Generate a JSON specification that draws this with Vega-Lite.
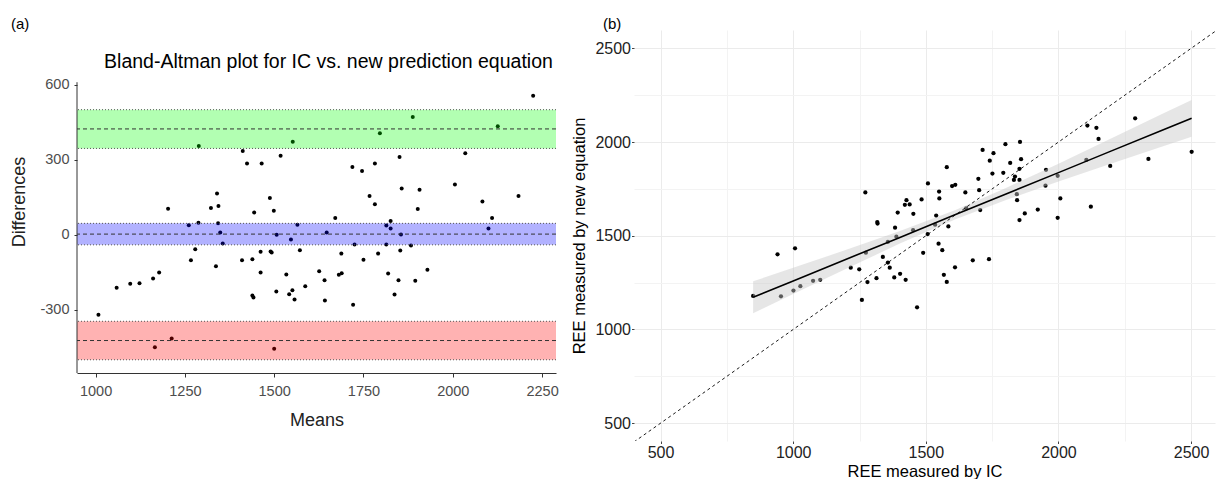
{
  "$schema": "https://vega.github.io/schema/vega-lite/v6.json",
  "background": "white",
  "padding": {"left": 10, "top": 17, "right": 2, "bottom": 2},
  "spacing": 12,
  "config": {
    "view": {"stroke": null},
    "font": "Liberation Sans",
    "axis": {"titleFontWeight": "normal", "labelExpr": "'' + datum.value"},
    "title": {"fontWeight": "normal", "color": "#000", "fontSize": 15, "font": "Liberation Sans"}
  },
  "datasets": {
    "ba": [
      {"m":2225,"d":556},{"m":1888,"d":471},{"m":2126,"d":434},{"m":1796,"d":406},{"m":1552,"d":372},{"m":1289,"d":355},{"m":1412,"d":335},{"m":2035,"d":326},{"m":1518,"d":316},{"m":1851,"d":311},{"m":1424,"d":285},{"m":1465,"d":285},{"m":1782,"d":285},{"m":1719,"d":271},{"m":1746,"d":255},{"m":2006,"d":201},{"m":1857,"d":185},{"m":1907,"d":180},{"m":1340,"d":165},{"m":2184,"d":155},{"m":1767,"d":155},{"m":1488,"d":147},{"m":2083,"d":133},{"m":1782,"d":121},{"m":1344,"d":114},{"m":1323,"d":106},{"m":1203,"d":103},{"m":1902,"d":102},{"m":1499,"d":95},{"m":1444,"d":88},{"m":1671,"d":66},{"m":2110,"d":66},{"m":1826,"d":54},
      {"m":1261,"d":37},{"m":1288,"d":47},{"m":1343,"d":45},{"m":1565,"d":39},{"m":1814,"d":36},{"m":1826,"d":24},{"m":2100,"d":24},{"m":1349,"d":8},{"m":1647,"d":8},{"m":1507,"d":-1},{"m":1855,"d":0},{"m":1547,"d":-20},{"m":1356,"d":-36},{"m":1725,"d":-40},{"m":1814,"d":-40},{"m":1883,"d":-44},{"m":1279,"d":-59},{"m":1572,"d":-63},{"m":1853,"d":-64},{"m":1462,"d":-69},{"m":1490,"d":-68},{"m":1493,"d":-72},{"m":1688,"d":-76},{"m":1791,"d":-76},{"m":1267,"d":-103},{"m":1410,"d":-103},{"m":1439,"d":-99},{"m":1750,"d":-101},{"m":1337,"d":-127},{"m":1929,"d":-141},{"m":1626,"d":-147},{"m":1462,"d":-152},{"m":1178,"d":-152},{"m":1689,"d":-155},{"m":1681,"d":-161},{"m":1819,"d":-156},{"m":1534,"d":-160},{"m":1161,"d":-176},{"m":1641,"d":-183},{"m":1848,"d":-183},{"m":1895,"d":-185},{"m":1123,"d":-195},{"m":1097,"d":-197},{"m":1587,"d":-207},{"m":1059,"d":-213},{"m":1551,"d":-223},{"m":1506,"d":-228},{"m":1439,"d":-244},{"m":1442,"d":-252},{"m":1542,"d":-239},{"m":1837,"d":-240},{"m":1557,"d":-260},{"m":1642,"d":-264},{"m":1721,"d":-281},{"m":1008,"d":-321},{"m":1213,"d":-416},{"m":1166,"d":-451},{"m":1500,"d":-457}
    ],
    "bands": [
      {"band":"upper","lo":345,"mid":423,"hi":500},
      {"band":"mean","lo":-41,"mid":2,"hi":45},
      {"band":"lower","lo":-501,"mid":-424,"hi":-347}
    ],
    "pts": [
      {"ic":2289,"ne":2127},{"ic":2109,"ne":2088},{"ic":2143,"ne":2076},{"ic":2151,"ne":2017},{"ic":2502,"ne":1948},{"ic":2339,"ne":1910},{"ic":2105,"ne":1905},{"ic":2195,"ne":1873},{"ic":2122,"ne":1655},{"ic":2007,"ne":1699},{"ic":1997,"ne":1596},{"ic":1997,"ne":1820},{"ic":1953,"ne":1852},{"ic":1951,"ne":1767},{"ic":1922,"ne":1640},{"ic":1873,"ne":1619},{"ic":1853,"ne":1584},{"ic":1855,"ne":2001},{"ic":1859,"ne":1909},{"ic":1853,"ne":1857},{"ic":1853,"ne":1798},{"ic":1836,"ne":1816},{"ic":1832,"ne":1798},{"ic":1843,"ne":1722},{"ic":1844,"ne":1690},{"ic":1818,"ne":1889},{"ic":1800,"ne":1989},{"ic":1792,"ne":1836},{"ic":1755,"ne":1941},{"ic":1741,"ne":1901},{"ic":1714,"ne":1958},{"ic":1751,"ne":1832},{"ic":1698,"ne":1804},{"ic":1701,"ne":1743},{"ic":1705,"ne":1637},{"ic":1649,"ne":1731},{"ic":1652,"ne":1646},{"ic":1611,"ne":1772},{"ic":1599,"ne":1765},{"ic":1579,"ne":1866},{"ic":1550,"ne":1736},{"ic":1551,"ne":1699},{"ic":1539,"ne":1608},{"ic":1535,"ne":1559},{"ic":1585,"ne":1550},{"ic":1508,"ne":1779},{"ic":1484,"ne":1694},{"ic":1453,"ne":1617},{"ic":1439,"ne":1667},{"ic":1427,"ne":1690},{"ic":1421,"ne":1665},{"ic":1452,"ne":1530},{"ic":1394,"ne":1624},{"ic":1384,"ne":1543},{"ic":1389,"ne":1495},{"ic":1317,"ne":1573},{"ic":1318,"ne":1565},{"ic":1272,"ne":1731},{"ic":1507,"ne":1509},{"ic":1548,"ne":1458},{"ic":1007,"ne":1433},{"ic":1357,"ne":1468},
      {"ic":941,"ne":1401},{"ic":849,"ne":1179},{"ic":954,"ne":1177},{"ic":1001,"ne":1208},{"ic":1027,"ne":1231},{"ic":1075,"ne":1260},{"ic":1102,"ne":1265},{"ic":1217,"ne":1330},{"ic":1249,"ne":1321},{"ic":1259,"ne":1158},{"ic":1274,"ne":1410},{"ic":1280,"ne":1253},{"ic":1314,"ne":1274},{"ic":1338,"ne":1387},{"ic":1357,"ne":1357},{"ic":1364,"ne":1330},{"ic":1381,"ne":1278},{"ic":1403,"ne":1297},{"ic":1424,"ne":1265},{"ic":1467,"ne":1118},{"ic":1490,"ne":1409},{"ic":1562,"ne":1423},{"ic":1568,"ne":1292},{"ic":1579,"ne":1254},{"ic":1610,"ne":1332},{"ic":1677,"ne":1369},{"ic":1738,"ne":1375}
    ],
    "fit": [
      {"x":849,"fit":1172,"lo":1087,"hi":1257},{"x":1000,"fit":1259,"lo":1189,"hi":1329},{"x":1200,"fit":1375,"lo":1324,"hi":1425},{"x":1400,"fit":1490,"lo":1457,"hi":1524},{"x":1612,"fit":1613,"lo":1588,"hi":1638},{"x":1800,"fit":1722,"lo":1690,"hi":1754},{"x":2000,"fit":1837,"lo":1789,"hi":1885},{"x":2200,"fit":1953,"lo":1886,"hi":2020},{"x":2400,"fit":2068,"lo":1981,"hi":2156},{"x":2502,"fit":2127,"lo":2029,"hi":2225}
    ],
    "identity": [{"a":400},{"a":2600}],
    "one": [{"t":"Bland-Altman plot for IC vs. new prediction equation"}]
  },
  "hconcat": [
    {
      "width": 479,
      "height": 343,
      "title": {"text": "(a)", "anchor": "start", "frame": "group", "dx": -66, "offset": -2},
      "layer": [
        {
          "data": {"name": "ba"},
          "mark": {"type": "circle", "size": 16, "color": "#000", "opacity": 1},
          "encoding": {
            "x": {"field": "m", "type": "quantitative",
              "scale": {"domain": [948, 2289], "nice": false, "zero": false},
              "axis": {"values": [1000,1250,1500,1750,2000,2250], "title": "Means", "titleFontSize": 18, "titleColor": "#222", "labelFontSize": 14.5, "labelColor": "#4d4d4d", "grid": false, "domain": true, "domainColor": "#333", "tickColor": "#333", "tickSize": 4, "labelPadding": 7, "titlePadding": 14}},
            "y": {"field": "d", "type": "quantitative",
              "scale": {"domain": [-554, 819], "nice": false, "zero": false},
              "axis": {"values": [-300,0,300,600], "title": "Differences", "titleFontSize": 18, "titleColor": "#222", "labelFontSize": 14.5, "labelColor": "#4d4d4d", "grid": false, "domain": false, "tickColor": "#333", "tickSize": 3, "labelPadding": 5, "titlePadding": 11}}
          }
        },
        {
          "data": {"name": "bands"},
          "mark": {"type": "rect", "opacity": 0.3},
          "encoding": {
            "x": {"datum": 948},
            "x2": {"datum": 2289},
            "y": {"field": "lo", "type": "quantitative"},
            "y2": {"field": "hi"},
            "color": {"field": "band", "type": "nominal", "legend": null,
              "scale": {"domain": ["upper", "mean", "lower"], "range": ["#00ff00", "#0000ff", "#ff0000"]}}
          }
        },
        {
          "data": {"name": "bands"},
          "mark": {"type": "rule", "color": "#555", "strokeDash": [1, 2], "strokeWidth": 1},
          "encoding": {"y": {"field": "lo", "type": "quantitative"}}
        },
        {
          "data": {"name": "bands"},
          "mark": {"type": "rule", "color": "#555", "strokeDash": [1, 2], "strokeWidth": 1},
          "encoding": {"y": {"field": "hi", "type": "quantitative"}}
        },
        {
          "data": {"name": "bands"},
          "mark": {"type": "rule", "color": "#333", "strokeDash": [4, 3], "strokeWidth": 1},
          "encoding": {"y": {"field": "mid", "type": "quantitative"}}
        },
        {
          "data": {"name": "one"},
          "mark": {"type": "rule", "color": "#333", "strokeWidth": 1},
          "encoding": {"x": {"datum": 948}, "y": {"datum": -554}, "y2": {"datum": 610}}
        },
        {
          "data": {"name": "one"},
          "mark": {"type": "text", "fontSize": 19.5, "font": "Liberation Sans", "color": "#000", "align": "center", "baseline": "middle"},
          "encoding": {"text": {"field": "t"}, "x": {"datum": 1652}, "y": {"datum": 692}}
        }
      ]
    },
    {
      "width": 581,
      "height": 411,
      "title": {"text": "(b)", "anchor": "start", "frame": "group", "dx": -31, "offset": -2},
      "resolve": {"axis": {"x": "independent", "y": "independent"}},
      "layer": [
        {
          "data": {"name": "pts"},
          "mark": {"type": "circle", "size": 18, "color": "#000", "opacity": 1},
          "encoding": {
            "x": {"field": "ic", "type": "quantitative",
              "scale": {"domain": [400, 2590], "nice": false, "zero": false},
              "axis": {"values": [500,1000,1500,2000,2500], "title": "REE measured by IC", "titleFontSize": 16.5, "titleColor": "#000", "labelFontSize": 16, "labelColor": "#222", "grid": true, "gridColor": "#ebebeb", "domain": false, "ticks": true, "tickSize": 2.5, "tickColor": "#444", "labelPadding": 1, "titlePadding": 3}},
            "y": {"field": "ne", "type": "quantitative",
              "scale": {"domain": [405, 2598], "nice": false, "zero": false},
              "axis": {"values": [500,1000,1500,2000,2500], "title": "REE measured by new equation", "titleFontSize": 16.5, "titleColor": "#000", "labelFontSize": 16, "labelColor": "#222", "grid": true, "gridColor": "#ebebeb", "domain": false, "ticks": true, "tickSize": 2.5, "tickColor": "#444", "labelPadding": 1, "titlePadding": 7}}
          }
        },
        {
          "data": {"name": "fit"},
          "mark": {"type": "area", "color": "#c8c8c8", "opacity": 0.45},
          "encoding": {
            "x": {"field": "x", "type": "quantitative", "axis": null},
            "y": {"field": "lo", "type": "quantitative", "axis": null},
            "y2": {"field": "hi"}
          }
        },
        {
          "data": {"name": "fit"},
          "mark": {"type": "line", "color": "#000", "strokeWidth": 1.6},
          "encoding": {
            "x": {"field": "x", "type": "quantitative", "axis": null},
            "y": {"field": "fit", "type": "quantitative", "axis": null}
          }
        },
        {
          "data": {"name": "identity"},
          "mark": {"type": "line", "color": "#000", "strokeWidth": 0.9, "strokeDash": [3, 3], "clip": true},
          "encoding": {
            "x": {"field": "a", "type": "quantitative",
              "axis": {"values": [750,1250,1750,2250], "title": null, "labels": false, "ticks": false, "domain": false, "grid": true, "gridColor": "#f3f3f3"}},
            "y": {"field": "a", "type": "quantitative",
              "axis": {"values": [750,1250,1750,2250], "title": null, "labels": false, "ticks": false, "domain": false, "grid": true, "gridColor": "#f3f3f3"}}
          }
        }
      ]
    }
  ]
}
